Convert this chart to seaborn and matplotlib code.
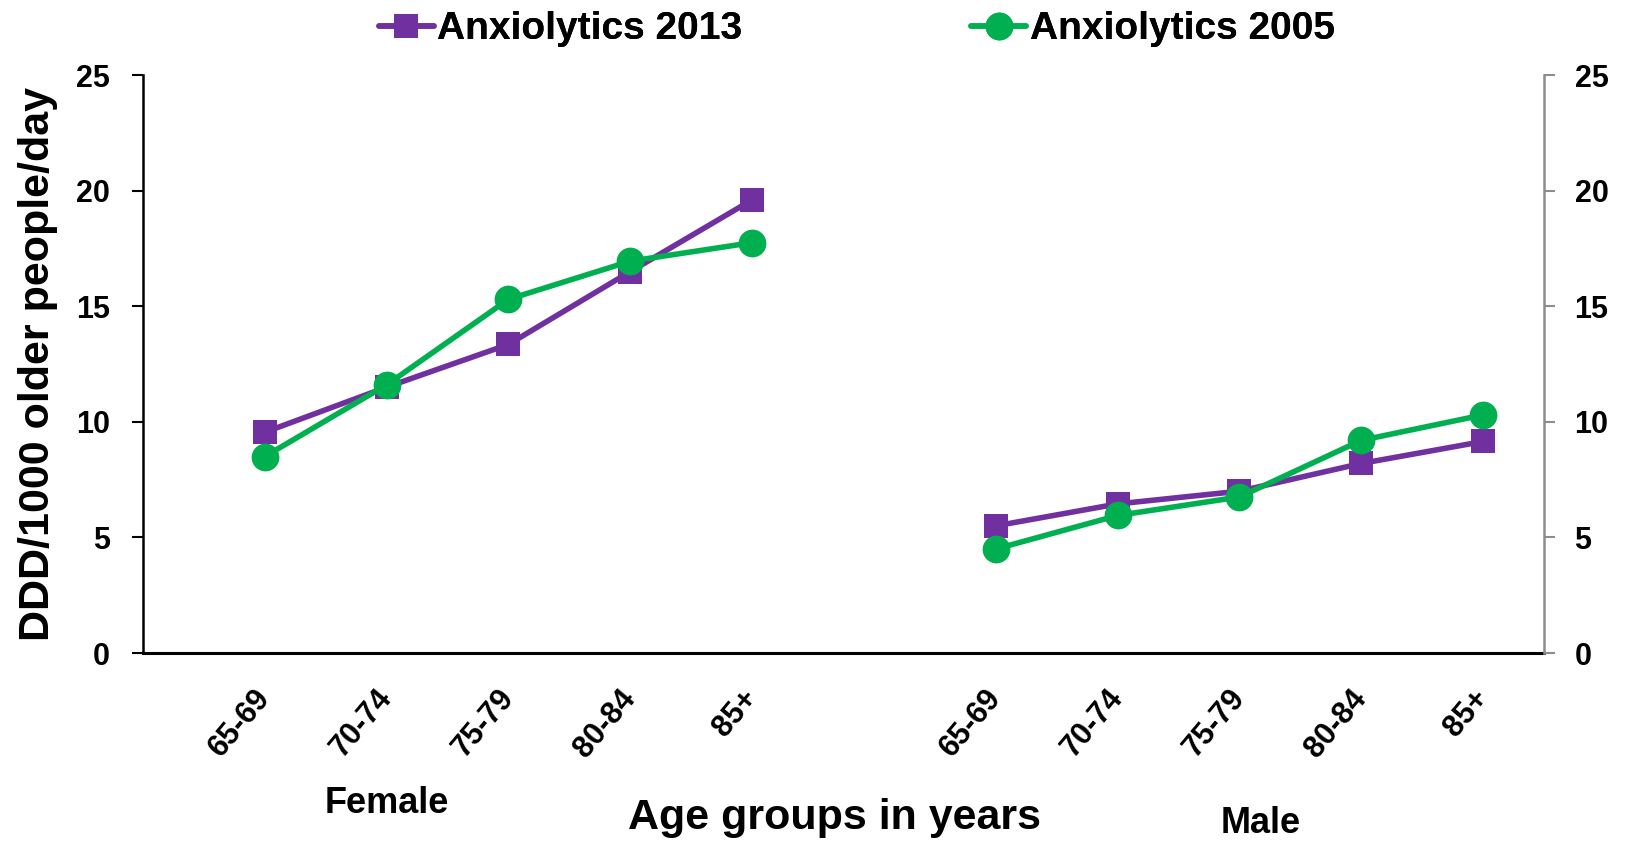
import matplotlib
matplotlib.use("Agg")
import matplotlib.pyplot as plt
import numpy as np
import pandas as pd
import seaborn as sns

# values (DDD/1000 older people/day)
age_groups = ["65-69", "70-74", "75-79", "80-84", "85+"]
female_2013 = [9.55, 11.5, 13.35, 16.5, 19.6]
female_2005 = [8.5, 11.6, 15.3, 16.95, 17.75]
male_2013 = [5.5, 6.45, 7.0, 8.2, 9.15]
male_2005 = [4.5, 5.95, 6.75, 9.2, 10.3]

series_names = ["Anxiolytics 2013", "Anxiolytics 2005"]
colors = {"Anxiolytics 2013": "#7030A0", "Anxiolytics 2005": "#00B050"}
markers = {"Anxiolytics 2013": "s", "Anxiolytics 2005": "o"}

# category slots: female 1..5, blank slot 6, male 7..11
female_x = np.arange(1, 6)
male_x = np.arange(7, 12)

rows = []
for sex, xs, v13, v05 in [("Female", female_x, female_2013, female_2005),
                          ("Male", male_x, male_2013, male_2005)]:
    for x, a, b in zip(xs, v13, v05):
        rows.append({"sex": sex, "x": x, "series": "Anxiolytics 2013", "value": a})
        rows.append({"sex": sex, "x": x, "series": "Anxiolytics 2005", "value": b})
df = pd.DataFrame(rows)

sns.set_theme(style="white")
plt.rcParams["font.family"] = ["Liberation Sans", "DejaVu Sans"]
plt.rcParams["text.color"] = "black"
plt.rcParams["axes.labelcolor"] = "black"
plt.rcParams["xtick.labelcolor"] = "black"
plt.rcParams["ytick.labelcolor"] = "black"
narrow = ["Liberation Sans Narrow", "Liberation Sans"]

fig = plt.figure(figsize=(16.27, 8.41), dpi=100)
ax = fig.add_axes([0.0879, 0.2235, 0.949 - 0.0879, 0.9108 - 0.2235])

handles = {}
for sex in ["Female", "Male"]:
    for name in series_names:
        sub = df[(df["sex"] == sex) & (df["series"] == name)]
        sns.lineplot(data=sub, x="x", y="value", color=colors[name], marker=markers[name],
                     markersize=17 if name.endswith("2013") else 20, markeredgewidth=0,
                     linewidth=4, legend=False, ax=ax)
        handles[name] = ax.lines[-1]

ax.set_xlim(0, 11.5)
ax.set_ylim(0, 25)
ax.set_yticks(range(0, 26, 5))
ax.set_xticks(range(0, 12))
labels = [""] + age_groups + [""] + age_groups
ax.set_xticklabels(labels, rotation=50, ha="right", va="center", rotation_mode="anchor",
                   fontsize=22, fontweight="bold")
ax.tick_params(axis="x", direction="out", length=10, width=1.5, color="black", pad=19)
ax.tick_params(axis="y", direction="out", length=8, width=1.5, color="black",
               labelsize=22, pad=16)
for lab in ax.get_yticklabels():
    lab.set_fontweight("bold")
ax.set_xlabel("")
ax.set_ylabel("DDD/1000 older people/day", fontsize=31, fontweight="bold", labelpad=13)

ax.spines["top"].set_visible(False)
ax.spines["right"].set_visible(False)
ax.spines["left"].set_color("black")
ax.spines["left"].set_linewidth(1.8)
ax.spines["bottom"].set_color("black")
ax.spines["bottom"].set_linewidth(2.2)

ax2 = ax.twinx()
ax2.set_ylim(0, 25)
ax2.set_yticks(range(0, 26, 5))
ax2.tick_params(axis="y", direction="out", length=8, width=1.5, color="#8c8c8c",
                labelsize=22, pad=14)
for lab in ax2.get_yticklabels():
    lab.set_fontweight("bold")
for side in ["top", "left", "bottom"]:
    ax2.spines[side].set_visible(False)
ax2.spines["right"].set_color("#8c8c8c")
ax2.spines["right"].set_linewidth(1.8)
ax2.grid(False)
ax.grid(False)

fig.text(0.238, 0.044, "Female", fontsize=26, fontweight="bold", ha="center", va="center",
         family=narrow)
fig.text(0.513, 0.027, "Age groups in years", fontsize=31, fontweight="bold",
         ha="center", va="center", family=narrow)
fig.text(0.775, 0.021, "Male", fontsize=26, fontweight="bold", ha="center", va="center",
         family=narrow)

leg_prop = {"family": narrow, "weight": "bold", "size": 28}
for name, x0 in zip(series_names, [0.233, 0.597]):
    leg = fig.legend([handles[name]], [name], loc="center left", bbox_to_anchor=(x0, 0.965),
                     frameon=False, prop=leg_prop, handlelength=1.4, handletextpad=0.1,
                     borderpad=0, borderaxespad=0)
    fig.add_artist(leg)

fig.savefig("out.png", dpi=100)
